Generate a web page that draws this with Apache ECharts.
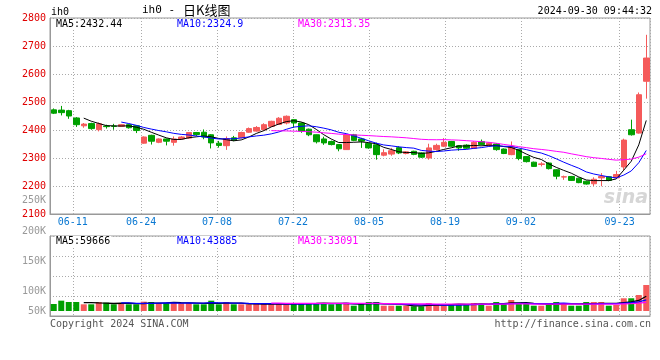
<!DOCTYPE html>
<html><head><meta charset="utf-8">
<script src="https://cdn.jsdelivr.net/npm/echarts@6/dist/echarts.min.js"></script>
<style>html,body{margin:0;padding:0;background:#fff}#c{width:660px;height:360px}</style>
</head><body><div id="c"></div>
<script>
// ---- data ----
const dates = [
 '06-04','06-05','06-06','06-07','06-11','06-12','06-13','06-14','06-17','06-18','06-19','06-20','06-21','06-24','06-25','06-26','06-27','06-28',
 '07-01','07-02','07-03','07-04','07-05','07-08','07-09','07-10','07-11','07-12','07-15','07-16','07-17','07-18','07-19','07-22','07-23','07-24','07-25','07-26','07-29','07-30','07-31',
 '08-01','08-02','08-05','08-06','08-07','08-08','08-09','08-12','08-13','08-14','08-15','08-16','08-19','08-20','08-21','08-22','08-23','08-26','08-27','08-28','08-29','08-30',
 '09-02','09-03','09-04','09-05','09-06','09-09','09-10','09-11','09-12','09-13','09-18','09-19','09-20','09-23','09-24','09-25','09-26'
];
const open = [2472,2471,2469,2443,2415,2423,2401,2414,2414,2413,2419,2415,2353,2381,2356,2368,2356,2368,2371,2391,
 2392,2383,2353,2344,2372,2373,2392,2396,2401,2413,2420,2425,2437,2425,2403,2383,2368,2359,2348,2330,
 2383,2368,2352,2347,2310,2314,2337,2316,2324,2318,2300,2330,2342,2359,2344,2346,2334,2359,2344,2350,
 2332,2312,2330,2305,2285,2277,2282,2258,2232,2234,2228,2217,2208,2229,2233,2229,2268,2401,2389,2574];
const close = [2460,2462,2450,2419,2421,2405,2422,2412,2413,2419,2408,2398,2375,2360,2368,2360,2368,2375,2391,2384,
 2375,2354,2345,2369,2364,2391,2405,2409,2419,2431,2442,2449,2425,2396,2383,2358,2354,2348,2333,2383,
 2363,2360,2336,2312,2319,2326,2318,2322,2313,2303,2336,2345,2356,2342,2336,2335,2356,2348,2354,2330,
 2316,2340,2298,2287,2270,2279,2262,2235,2233,2220,2212,2207,2224,2234,2220,2241,2364,2383,2526,2657];
const low = [2457,2452,2440,2411,2408,2401,2395,2405,2401,2411,2405,2389,2351,2348,2353,2345,2344,2366,2368,2379,
 2367,2334,2337,2329,2360,2370,2390,2394,2399,2411,2418,2420,2408,2390,2378,2352,2347,2345,2324,2329,
 2360,2336,2333,2294,2306,2308,2314,2313,2310,2300,2294,2327,2339,2340,2326,2332,2332,2345,2342,2326,
 2314,2310,2292,2284,2268,2270,2259,2224,2222,2218,2210,2205,2200,2199,2217,2228,2256,2380,2387,2512];
const high = [2477,2486,2472,2446,2425,2426,2427,2419,2422,2421,2421,2416,2377,2383,2370,2369,2377,2378,2393,2393,
 2402,2385,2361,2377,2379,2394,2409,2414,2424,2433,2446,2452,2438,2427,2405,2384,2376,2362,2350,2385,
 2386,2372,2354,2355,2331,2336,2342,2325,2326,2320,2351,2351,2371,2361,2346,2349,2360,2366,2356,2352,
 2334,2359,2332,2307,2287,2285,2284,2260,2237,2236,2230,2219,2231,2246,2235,2254,2369,2437,2534,2740];
// volume in thousands of lots
const volume = [28.5,42,36.6,36.6,27.2,27.2,36.6,33.8,27.2,32.6,27.2,27.2,37.9,36.6,32.6,32.6,36.6,32.6,32.6,27.2,
 27.2,42,27.2,36.6,27.2,27.2,27.2,28.5,28.5,28.5,28.5,27.2,32.6,28.5,32.6,32.6,32.6,27.2,28.5,33.8,
 21.6,28.5,36.6,36.6,21.6,21.6,21.6,21.6,19.1,19.1,32.6,28.5,21.6,28.5,28.5,28.5,32.6,28.5,21.6,36.6,
 32.6,44.8,28.5,28.5,21.6,21.6,32.6,36.6,32.6,21.6,21.6,36.6,36.6,36.6,21.6,24.4,51.7,51.7,65.1,105.8];
const gridDates = dates.slice(1);
const labelDates = ['06-11','06-24','07-08','07-22','08-05','08-19','09-02','09-23'];
const priceMin = 2100, priceMax = 2800, priceStep = 100;
const priceLegend = ['MA5:2432.44','MA10:2324.9','MA30:2313.35'];
const volLegend = ['MA5:59666','MA10:43885','MA30:33091'];
const volTickLabels = ['200K','150K','100K','50K'];
const title = 'ih0 - ';
const titleCN = '日K线图';
const stamp = '2024-09-30 09:44:32';

// ---- helpers ----
const UP = '#f55a5a', DOWN = '#00a000';
const MONO = '"DejaVu Sans Mono", "Liberation Mono", monospace';
function ma(arr, n) {
  return arr.map((v, i) => {
    if (i < n - 1) return '-';
    let s = 0; for (let k = i - n + 1; k <= i; k++) s += arr[k];
    return +(s / n).toFixed(2);
  });
}
const candles = dates.map((d, i) => [open[i], close[i], low[i], high[i]]);
const volBars = volume.map((v, i) => ({ value: v, itemStyle: { color: close[i] >= open[i] ? UP : DOWN } }));
const isLabel = (idx, val) => labelDates.indexOf(val) >= 0;
const dot = { color: '#aaa', type: [1, 2], width: 1 };
const maColors = ['#000000', '#0000ff', '#ff00ff'];

function txt(x, y, text, fill, extra) {
  return { type: 'text', silent: true, z: 100, style: Object.assign({ x: x, y: y, text: text, fill: fill, font: '10px ' + MONO, verticalAlign: 'middle' }, extra || {}) };
}

const chart = echarts.init(document.getElementById('c'), null, { renderer: 'canvas' });
chart.setOption({
  animation: false,
  backgroundColor: '#fff',
  grid: [
    { left: 50, right: 10, top: 18, height: 196, show: true, borderColor: '#999', borderWidth: 1, backgroundColor: 'transparent' },
    { left: 50, right: 10, top: 236, height: 80, show: true, borderColor: '#999', borderWidth: 1, backgroundColor: 'transparent' }
  ],
  xAxis: [
    { gridIndex: 0, type: 'category', data: dates, boundaryGap: true, axisLine: { show: false }, axisTick: { show: false }, axisLabel: { show: false }, splitLine: { show: false } },
    { gridIndex: 0, type: 'category', data: gridDates, boundaryGap: true, position: 'bottom',
      axisLine: { show: true, lineStyle: { color: '#999' } }, axisTick: { show: false },
      axisLabel: { interval: isLabel, color: '#0a78d2', fontFamily: MONO, fontSize: 10, margin: 3, padding: [0, 7.6, 0, 0] },
      splitLine: { show: true, interval: isLabel, lineStyle: dot } },
    { gridIndex: 1, type: 'category', data: dates, boundaryGap: true, axisLine: { show: false }, axisTick: { show: false }, axisLabel: { show: false }, splitLine: { show: false } },
    { gridIndex: 1, type: 'category', data: gridDates, boundaryGap: true, position: 'bottom',
      axisLine: { show: true, lineStyle: { color: '#999' } }, axisTick: { show: false }, axisLabel: { show: false },
      splitLine: { show: true, interval: isLabel, lineStyle: dot } }
  ],
  yAxis: [
    { gridIndex: 0, type: 'value', min: priceMin, max: priceMax, interval: priceStep, scale: true,
      axisLine: { show: true, lineStyle: { color: '#999' } }, axisTick: { show: false },
      axisLabel: { color: '#e00000', fontFamily: MONO, fontSize: 10, margin: 4, formatter: v => String(v) },
      splitLine: { show: true, lineStyle: dot } },
    { gridIndex: 1, type: 'value', min: -20.33, max: 304.87, interval: 81.3,
      axisLine: { show: true, lineStyle: { color: '#999' } }, axisTick: { show: false },
      axisLabel: { show: false }, splitLine: { show: true, lineStyle: dot } }
  ],
  series: [
    { type: 'candlestick', xAxisIndex: 0, yAxisIndex: 0, data: candles, barWidth: 6, z: 2,
      itemStyle: { color: UP, color0: DOWN, borderColor: UP, borderColor0: DOWN, borderWidth: 1 } },
    ...[5, 10, 30].map((n, k) => ({ type: 'line', xAxisIndex: 0, yAxisIndex: 0, data: ma(close, n), showSymbol: false, symbol: 'none', z: 3,
      lineStyle: { color: maColors[k], width: 1 } })),
    { type: 'bar', xAxisIndex: 2, yAxisIndex: 1, data: volBars, barWidth: 6, z: 2 },
    ...[5, 10, 30].map((n, k) => ({ type: 'line', xAxisIndex: 2, yAxisIndex: 1, data: ma(volume, n), showSymbol: false, symbol: 'none', z: 3,
      lineStyle: { color: maColors[k], width: 1.3 } }))
  ],
  graphic: [
    txt(51, 12, 'ih0', '#000'),
    txt(142, 10, title, '#000', { font: '11px ' + MONO }),
    txt(183, 10, titleCN, '#000', { font: '13px "Noto Sans CJK SC"' }),
    txt(652, 11, stamp, '#000', { align: 'right' }),
    txt(55, 24.5, priceLegend[0], maColors[0], { backgroundColor: '#fff', padding: [0, 1] }),
    txt(176, 24.5, priceLegend[1], maColors[1], { backgroundColor: '#fff', padding: [0, 1] }),
    txt(297, 24.5, priceLegend[2], maColors[2], { backgroundColor: '#fff', padding: [0, 1] }),
    txt(46, 200, '250K', '#999', { align: 'right' }),
    txt(46, 231, volTickLabels[0], '#999', { align: 'right' }),
    txt(46, 261, volTickLabels[1], '#999', { align: 'right' }),
    txt(46, 291, volTickLabels[2], '#999', { align: 'right' }),
    txt(46, 311, volTickLabels[3], '#999', { align: 'right' }),
    txt(55, 241, volLegend[0], maColors[0], { backgroundColor: '#fff', padding: [0, 1] }),
    txt(176, 241, volLegend[1], maColors[1], { backgroundColor: '#fff', padding: [0, 1] }),
    txt(297, 241, volLegend[2], maColors[2], { backgroundColor: '#fff', padding: [0, 1] }),
    txt(50, 324, 'Copyright 2024 SINA.COM', '#555'),
    txt(651, 324, 'http://finance.sina.com.cn', '#555', { align: 'right' }),
    { type: 'text', silent: true, z: 1, style: { x: 648, y: 198, text: 'sina', fill: '#d6d6d6', font: 'italic bold 19px "DejaVu Sans"', align: 'right', verticalAlign: 'middle' } }
  ]
});
</script></body></html>
